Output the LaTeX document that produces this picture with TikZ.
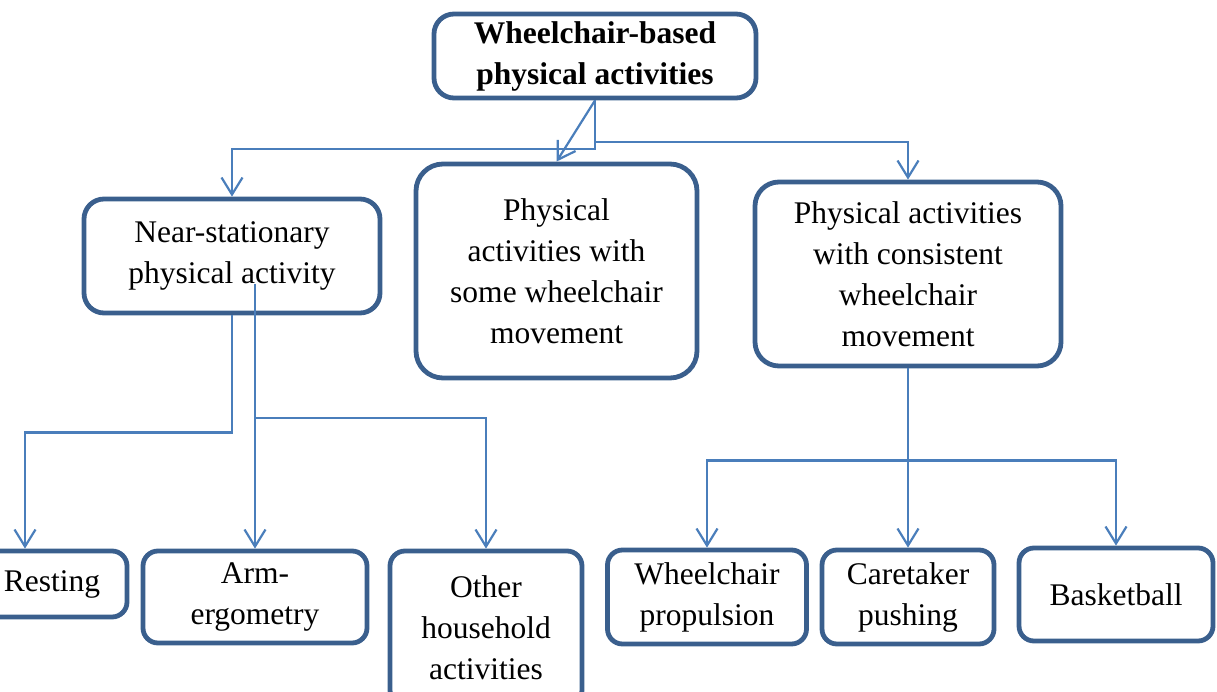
\documentclass[tikz,border=0pt]{standalone}
\usepackage{fontspec}
\setmainfont{Liberation Serif}
\usetikzlibrary{arrows.meta}
\definecolor{boxblue}{HTML}{3A5F8D}
\definecolor{linkblue}{HTML}{4A7EBB}
\begin{document}
\begin{tikzpicture}[x=1pt,y=-1pt,
    box/.style={draw=boxblue, line width=4.8pt, rounded corners=20pt, align=center,
      inner sep=2pt, font=\fontsize{31.5}{41}\selectfont},
    leaf/.style={box, rounded corners=15pt},
    link/.style={draw=linkblue, line width=2.2pt, -{Straight Barb[length=17pt,width=21pt]}}]
    \useasboundingbox (0,0) rectangle (1217,692);
    \clip (0,0) rectangle (1217,692);
    % main categories
    \node[box, minimum width=322pt, minimum height=84pt, font=\fontsize{31.5}{41}\selectfont\bfseries]
      (top) at (595,56) {Wheelchair-based\\physical activities};
    \node[box, minimum width=296pt, minimum height=114pt] (near) at (232,256)
      {Near-stationary\\physical activity};
    \node[box, rounded corners=27pt, minimum width=281pt, minimum height=214pt] (middle) at (556.5,271)
      {Physical\\activities with\\some wheelchair\\movement};
    \node[box, rounded corners=24pt, minimum width=306pt, minimum height=184pt] (right) at (908,274)
      {Physical activities\\with consistent\\wheelchair\\movement};
    % activities
    \node[leaf, minimum width=150pt, minimum height=66pt] (resting) at (52,584) {Resting};
    \node[leaf, minimum width=224pt, minimum height=92pt] (arm) at (255,597) {Arm-\\ergometry};
    \node[leaf, minimum width=192pt, minimum height=154pt] (other) at (486,628)
      {Other\\household\\activities};
    \node[leaf, minimum width=199pt, minimum height=94pt] (propulsion) at (707,597)
      {Wheelchair\\propulsion};
    \node[leaf, minimum width=172pt, minimum height=94pt] (pushing) at (908,597)
      {Caretaker\\pushing};
    \node[leaf, minimum width=194pt, minimum height=93pt] (basket) at (1116,594.5) {Basketball};
    \coordinate (nearTap) at (255,284);
    \path (resting.north) ++(-27,0) coordinate (restTop);
    % connectors
    \draw[link] (top.south) -- ++(0,49) -| (near.north);
    \draw[link] (top.south) -- (middle.north);
    \draw[link] (top.south) -- ++(0,42) -| (right.north);
    \draw[link] (near.south) -- ++(0,117) -| (restTop);
    \draw[link] (nearTap) -- (arm.north);
    \draw[link] (nearTap) ++(0,134) -| (other.north);
    \draw[link] (right.south) -- (pushing.north);
    \draw[link] (right.south) ++(0,92) -| (propulsion.north);
    \draw[link] (right.south) ++(0,92) -| (basket.north);
\end{tikzpicture}
\end{document}
